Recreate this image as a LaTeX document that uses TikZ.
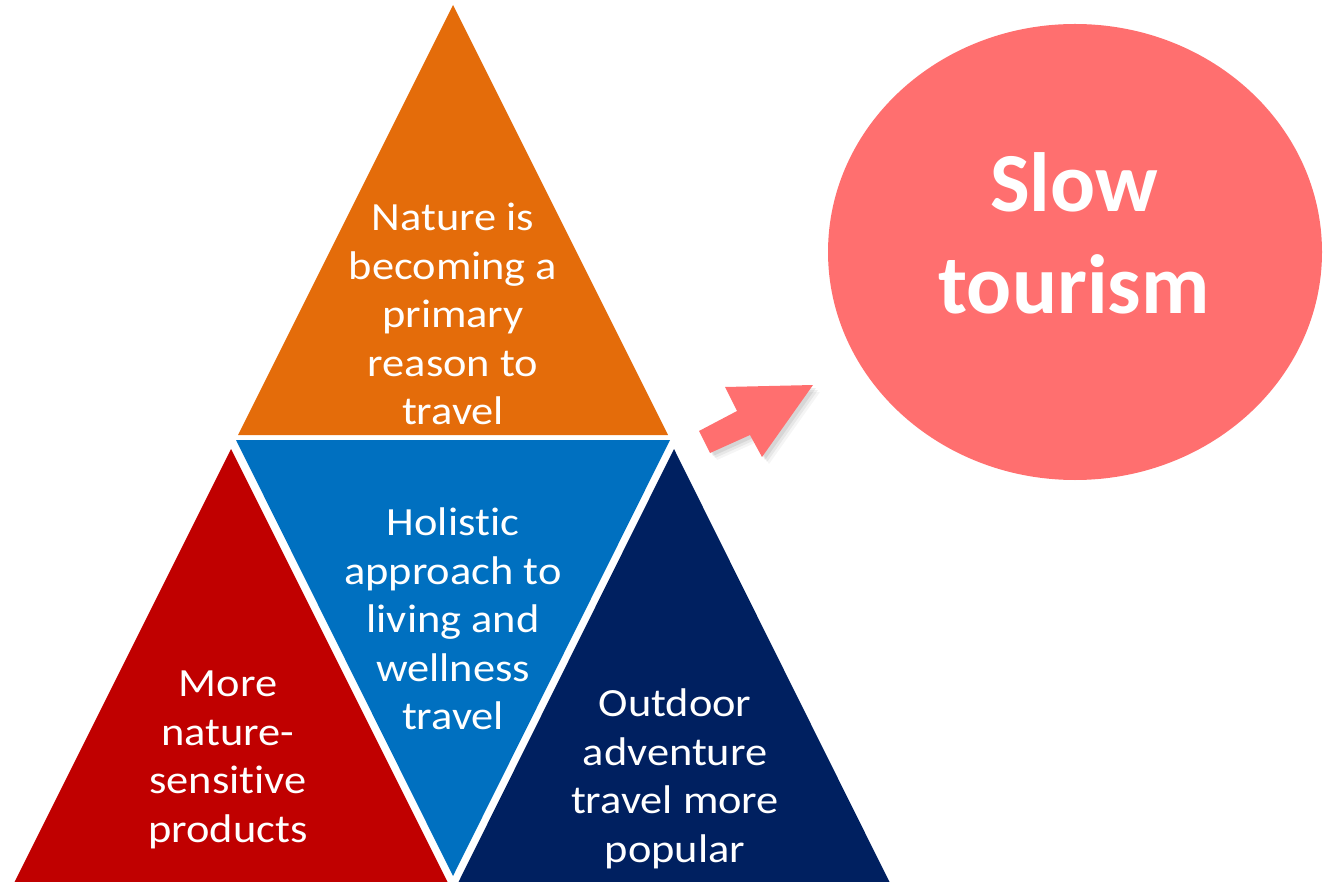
\documentclass[tikz,border=0pt]{standalone}
\usepackage{fontspec}
\setmainfont[Ligatures=NoCommon]{Carlito}
\newfontfamily\widefont[Ligatures=NoCommon,FakeStretch=1.11]{Carlito}
\usetikzlibrary{shapes.geometric}
\definecolor{corange}{HTML}{E46C0A}
\definecolor{cblue}{HTML}{0070C0}
\definecolor{cred}{HTML}{C00000}
\definecolor{cnavy}{HTML}{002060}
\definecolor{csalmon}{HTML}{FF6F6F}
\tikzset{
  lbl/.style={text=white, align=center, inner sep=0pt, font=\widefont\fontsize{40}{48.5}\selectfont},
  big/.style={text=white, align=center, inner sep=0pt, font=\fontsize{84}{102}\selectfont\bfseries},
}
\begin{document}
\begin{tikzpicture}[x=1pt,y=-1pt]
\useasboundingbox (0,0) rectangle (1327,882);
\begin{scope}
\clip (0,0) rectangle (1327,882);
\fill[corange] (453,5) -- (668,435) -- (238,435) -- cycle;
\fill[cblue] (236,440) -- (670,440) -- (453,876) -- cycle;
\fill[cred] (231,449) -- (448,883) -- (14,883) -- cycle;
\fill[cnavy] (674,449) -- (890,883) -- (458,883) -- cycle;
\end{scope}
% arrow shadow
\foreach \d/\o in {3/0.07,5/0.06,7/0.04}{
\fill[black, opacity=\o] ([shift={(\d,\d)}]699,431) -- ([shift={(\d,\d)}]737,411) -- ([shift={(\d,\d)}]725,387) -- ([shift={(\d,\d)}]813,385) -- ([shift={(\d,\d)}]762,457) -- ([shift={(\d,\d)}]750,435) -- ([shift={(\d,\d)}]710,453) -- cycle;
}
\fill[csalmon] (699,431) -- (737,411) -- (725,387) -- (813,385) -- (762,457) -- (750,435) -- (710,453) -- cycle;
% ellipse
\node[ellipse, fill=csalmon, minimum width=494pt, minimum height=456pt, inner sep=0pt] (slow) at (1075,252) {};
\node[big] (slowt) at (1074,233) {Slow\\tourism};
% labels
\node[lbl] (nat) at (453,314) {Nature is\\becoming a\\primary\\reason to\\travel};
\node[lbl] (hol) at (453,619) {Holistic\\approach to\\living and\\wellness\\travel};
\node[lbl] (mor) at (228,760) {More\\nature-\\sensitive\\products};
\node[lbl] (out) at (675,779) {Outdoor\\adventure\\travel more\\popular};
\end{tikzpicture}
\end{document}
